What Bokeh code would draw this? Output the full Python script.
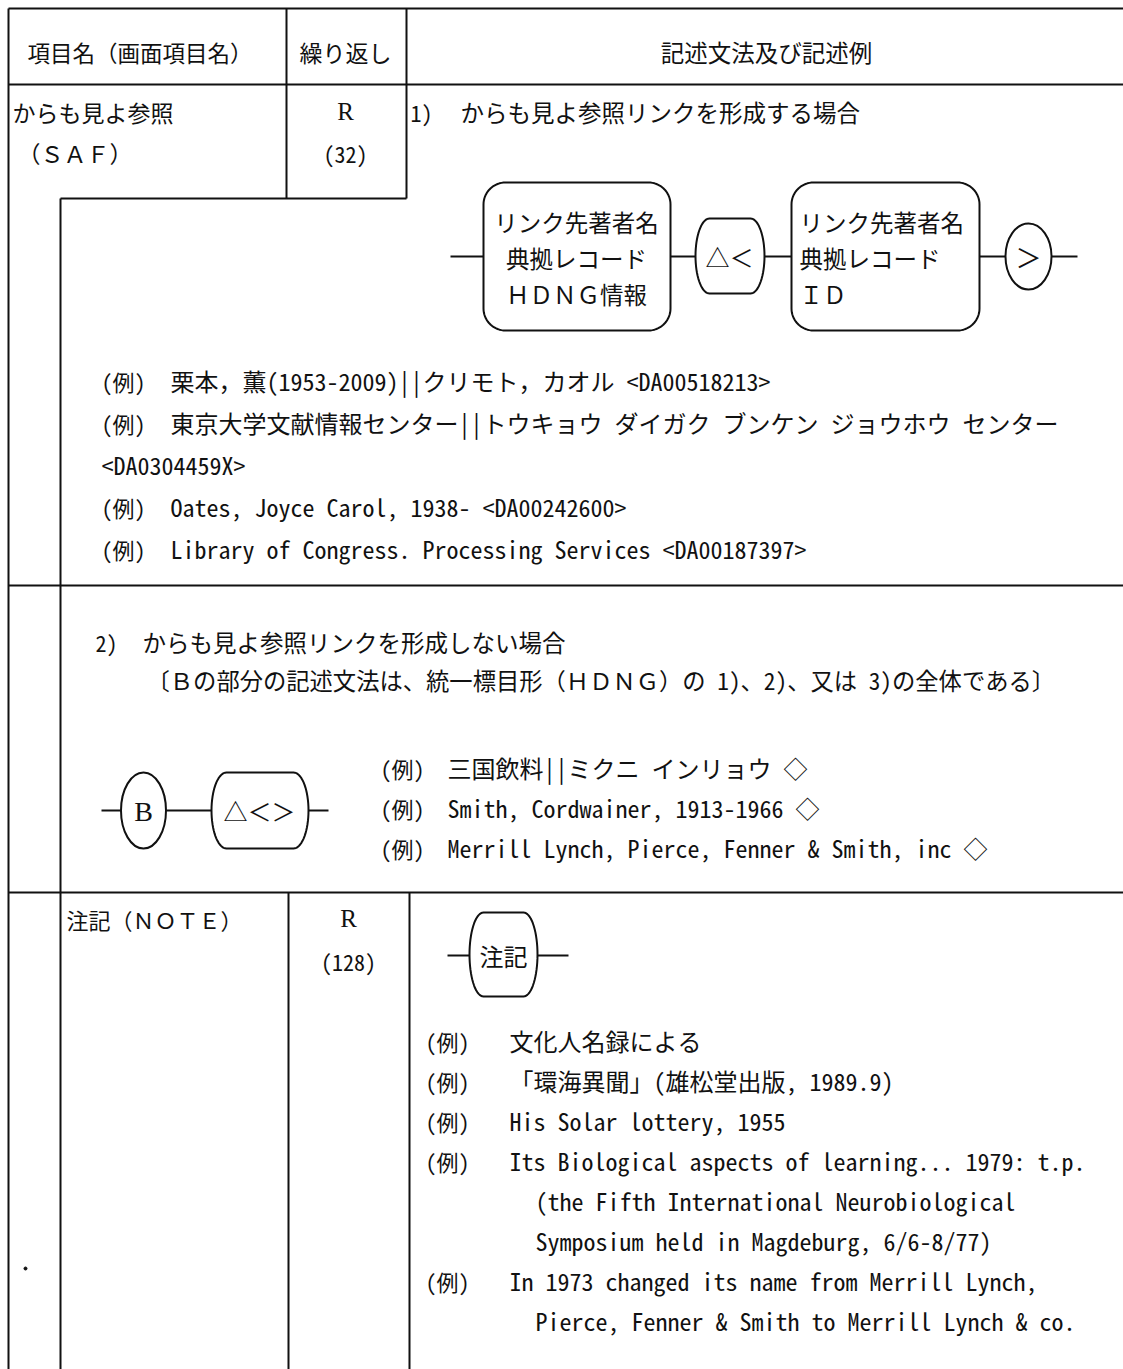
import numpy as np
from bokeh.plotting import figure
from bokeh.models import ColumnDataSource, Range1d
from bokeh.core.properties import value
from bokeh.embed import file_html
from bokeh.resources import INLINE

# ---------------- content ----------------
header_labels = ["項目名（画面項目名）", "繰り返し", "記述文法及び記述例"]
field_labels = ["からも見よ参照", "（ＳＡＦ）", "注記（ＮＯＴＥ）"]
repeat_labels = ["R", "(32)", "R", "(128)"]
case_numbers = ["1)", "2)"]
case_titles = ["からも見よ参照リンクを形成する場合", "からも見よ参照リンクを形成しない場合"]
case2_note = "〔Ｂの部分の記述文法は、統一標目形（ＨＤＮＧ）の 1)、2)、又は 3)の全体である〕"
link_box_left = ["リンク先著者名", "典拠レコード", "ＨＤＮＧ情報"]
link_box_right = ["リンク先著者名", "典拠レコード", "ＩＤ"]
link_symbols = ["△＜", "＞"]
nolink_symbols = ["B", "△＜＞"]
note_symbol = "注記"
example_mark = "(例)"

saf_link_examples = [
    "栗本，薫(1953-2009)||クリモト，カオル <DA00518213>",
    "東京大学文献情報センター||トウキョウ ダイガク ブンケン ジョウホウ センター",
    "<DA0304459X>",
    "Oates, Joyce Carol, 1938- <DA00242600>",
    "Library of Congress. Processing Services <DA00187397>",
]
saf_link_marked = [True, True, False, True, True]

saf_nolink_examples = [
    "三国飲料||ミクニ インリョウ ◇",
    "Smith, Cordwainer, 1913-1966 ◇",
    "Merrill Lynch, Pierce, Fenner & Smith, inc ◇",
]

note_examples = [
    "文化人名録による",
    "「環海異聞」(雄松堂出版, 1989.9)",
    "His Solar lottery, 1955",
    "Its Biological aspects of learning... 1979: t.p.",
    "(the Fifth International Neurobiological",
    "Symposium held in Magdeburg, 6/6-8/77)",
    "In 1973 changed its name from Merrill Lynch,",
    "Pierce, Fenner & Smith to Merrill Lynch & co.",
]
note_marked = [True, True, True, True, False, False, True, False]

# ---------------- figure ----------------
W, H = 1123, 1369
p = figure(width=W, height=H, output_backend="svg", toolbar_location=None,
           x_range=Range1d(0, W), y_range=Range1d(H, 0),
           x_axis_type=None, y_axis_type=None, min_border=0)
p.grid.visible = False
p.outline_line_color = None
p.background_fill_color = "white"
p.border_fill_color = "white"

FONT = "Noto Sans Mono CJK JP, Noto Sans CJK JP, sans-serif"
SERIF = "Liberation Serif, DejaVu Serif, serif"
INK = "#111111"

# ---------------- table rules ----------------
rules = dict(
    x0=[8, 8, 8, 286, 406, 60, 60, 8, 8, 288, 409],
    y0=[8, 84, 8, 8, 8, 198, 198, 585, 892, 892, 892],
    x1=[1123, 1123, 8, 286, 406, 406, 60, 1123, 1123, 288, 409],
    y1=[8, 84, 1369, 198, 198, 198, 1369, 585, 892, 1369, 1369],
)
p.segment(x0="x0", y0="y0", x1="x1", y1="y1", source=ColumnDataSource(rules),
          line_color=INK, line_width=2)

# ---------------- diagram connectors ----------------
conn = dict(
    x0=[450, 670, 764, 979, 1051, 101, 166, 308, 447, 537],
    x1=[483, 695, 791, 1005, 1077, 121, 211, 328, 469, 568],
    y=[256, 256, 256, 256, 256, 810, 810, 810, 955, 955],
)
p.segment(x0="x0", y0="y", x1="x1", y1="y", source=ColumnDataSource(conn),
          line_color=INK, line_width=2)


def rounded_path(x0, x1, y0, y1, rx, ry, n=18):
    xs, ys = [], []
    corners = [((x1 - rx, y0 + ry), -np.pi / 2, 0.0),
               ((x1 - rx, y1 - ry), 0.0, np.pi / 2),
               ((x0 + rx, y1 - ry), np.pi / 2, np.pi),
               ((x0 + rx, y0 + ry), np.pi, 1.5 * np.pi)]
    for (cx, cy), a0, a1 in corners:
        a = np.linspace(a0, a1, n)
        xs.extend(cx + rx * np.cos(a))
        ys.extend(cy + ry * np.sin(a))
    return list(xs), list(ys)


box_specs = [
    (483, 670, 182, 330, 22, 22),
    (695, 764, 218, 293, 14, 37.5),
    (791, 979, 182, 330, 22, 22),
    (211, 308, 772, 848, 15, 38),
    (469, 537, 912, 996, 14, 42),
]
bx, by = [], []
for spec in box_specs:
    a, b = rounded_path(*spec)
    bx.append(a)
    by.append(b)
p.patches(xs="xs", ys="ys", source=ColumnDataSource(dict(xs=bx, ys=by)),
          fill_color="white", line_color=INK, line_width=2)

ell = dict(x=[1028, 143], y=[256, 810], w=[46, 45], h=[66, 76])
p.ellipse(x="x", y="y", width="w", height="h", source=ColumnDataSource(ell),
          fill_color="white", line_color=INK, line_width=2)

p.scatter(x=[25], y=[1268], size=3, color=INK)

# ---------------- texts ----------------
groups = {}


def put(x, y, text, size, align="left", font=FONT):
    g = groups.setdefault((font, align), dict(x=[], y=[], text=[], size=[]))
    g["x"].append(x)
    g["y"].append(y)
    g["text"].append(text)
    g["size"].append(f"{size}px")


# header
put(27, 51, header_labels[0], 22.5)
put(345, 51, header_labels[1], 23, "center")
put(766, 51, header_labels[2], 23.5, "center")

# field names
put(12, 111, field_labels[0], 23)
put(17, 152, field_labels[1], 23)
put(66, 918, field_labels[2], 22)

# repeat column
put(345, 111, repeat_labels[0], 25, "center", SERIF)
put(345, 152, repeat_labels[1], 22, "center")
put(348, 918, repeat_labels[2], 25, "center", SERIF)
put(348, 960, repeat_labels[3], 22, "center")

# case headings
put(410, 111, case_numbers[0], 22)
put(460, 111, case_titles[0], 23.5)
put(95, 641, case_numbers[1], 22)
put(142, 641, case_titles[1], 23.5)
put(146, 679, case2_note, 23.3)

# link diagram texts
for i, t in enumerate(link_box_left):
    put(576, 221 + 36 * i, t, 23.5, "center")
for i, t in enumerate(link_box_right):
    put(799, 221 + 36 * i, t, 23.5)
put(729, 256, link_symbols[0], 24, "center")
put(1028, 256, link_symbols[1], 26, "center")
put(143, 811, nolink_symbols[0], 28, "center", SERIF)
put(259, 810, nolink_symbols[1], 24, "center")
put(503, 955, note_symbol, 24, "center")

# examples, case 1
for i, (t, m) in enumerate(zip(saf_link_examples, saf_link_marked)):
    y = 380 + 42 * i
    if m:
        put(101, y, example_mark, 22)
        put(170, y, t, 24)
    else:
        put(101, y, t, 24)

# examples, case 2
for i, t in enumerate(saf_nolink_examples):
    y = 767 + 40 * i
    put(380, y, example_mark, 22)
    put(447, y, t, 24)

# examples, note
for i, (t, m) in enumerate(zip(note_examples, note_marked)):
    y = 1040 + 40 * i
    if m:
        put(425, y, example_mark, 22)
        put(509, y, t, 24)
    else:
        put(535, y, t, 24)

for (font, align), g in groups.items():
    p.text(x="x", y="y", text="text", text_font_size="size",
           source=ColumnDataSource(g), text_font=value(font),
           text_align=align, text_baseline="middle", text_color=INK)

open("out.html", "w").write(file_html(p, INLINE))
